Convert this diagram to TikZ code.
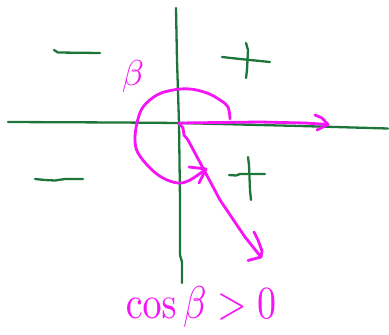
\documentclass[tikz,border=0pt]{standalone}
\definecolor{axgreen}{RGB}{28,118,58}
\definecolor{penmag}{RGB}{245,20,245}
\begin{document}
\begin{tikzpicture}[x=1pt,y=-1pt,
  ax/.style={draw=axgreen,line width=2.3pt,line cap=round,line join=round},
  pen/.style={draw=penmag,line width=2.8pt,line cap=round,line join=round},
  lbl/.style={text=penmag,inner sep=0pt}]
\useasboundingbox (0,0) rectangle (389,335);
\coordinate (O) at (179,123);
% axes
\draw[ax] (8,122) -- (120,122.5) -- (O) -- (300,126) -- (388,128.5);
\draw[ax] (176,8) -- (177,60) -- (O) -- (180,200) -- (180,255) -- (182,262) -- (182,283);
% minus signs
\draw[ax] (54,50) -- (58,52.5) -- (100,53);
\draw[ax] (35,179) -- (45,180) -- (55,180.5) -- (65,179) -- (83,179);
% plus signs
\draw[ax] (222,57) -- (240,59) -- (270,62);
\draw[ax] (246,43) -- (248,50) -- (247,70) -- (246,78);
\draw[ax] (229,175) -- (236,175.5) -- (240,174) -- (265,174);
\draw[ax] (248,157) -- (249,165) -- (250,190) -- (251,200);
% horizontal magenta arrow
\coordinate (H) at (328,124.5);
\draw[pen] (O) -- (260,122) -- (305,123) -- (H);
\draw[pen] (315,115) -- (322,118) -- (H) -- (317,130);
% radial arrow
\coordinate (R) at (261,257);
\draw[pen] (O) -- (183,128) -- (184,135) -- (188,140) -- (220,200) -- (245,237) -- (R);
\draw[pen] (254,232) -- (258,240) -- (262,251) -- (R) -- (248,260.5);
% arc
\coordinate (A) at (206,169);
\draw[pen] plot[smooth,tension=0.6] coordinates {(230,119) (228,107) (220,100) (207,93) (190,89) (173,90) (157,95) (143,107) (137,123) (135,140) (138,153) (150,168) (163,178) (178,183) (190,180) (A)};
\draw[pen] (189,167) -- (A) -- (199,183);
% labels
\node[lbl,scale=3.6] (beta) at (133,76) {$\beta$};
\node[lbl,xscale=3.8,yscale=4.6] (cond) at (201,307) {$\cos\beta>0$};
\end{tikzpicture}
\end{document}
